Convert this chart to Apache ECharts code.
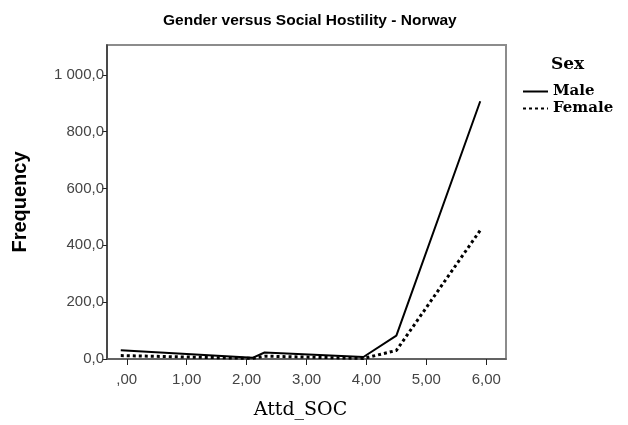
<!DOCTYPE html>
<html><head><meta charset="utf-8">
<script src="https://cdn.jsdelivr.net/npm/echarts@6/dist/echarts.min.js"></script>
<style>html,body{margin:0;padding:0;background:#fff}#c{width:628px;height:425px}</style>
</head><body><div id="c"></div>
<script>
const titleText = 'Gender versus Social Hostility - Norway';
const xName = 'Attd_SOC';
const yName = 'Frequency';
const legendTitle = 'Sex';
const seriesNames = ['Male', 'Female'];
const xTicks = [0, 1, 2, 3, 4, 5, 6];
const yTicks = [0, 200, 400, 600, 800, 1000];
const attdValues = [-0.1, 2.1, 2.3, 3.95, 4.5, 5.9];
const maleFreq = [31, 4, 23, 7, 82, 907];
const femaleFreq = [12, 2, 10, 2, 30, 453];

const chart = echarts.init(document.getElementById('c'));
const fmtX = v => v === 0 ? ',00' : v.toFixed(2).replace('.', ',');
const fmtY = v => v >= 1000 ? (Math.floor(v/1000) + ' ' + (v%1000).toFixed(1).padStart(5,'0')).replace('.', ',') : v.toFixed(1).replace('.', ',');
chart.setOption({
  animation: false,
  title: { text: titleText, left: 158, top: 8,
    textStyle: { fontFamily: 'Liberation Sans', fontWeight: 'bold', fontSize: 15.5, color: '#000' } },
  legend: {
    data: seriesNames, orient: 'vertical', left: 522, top: 84, padding: 0, itemWidth: 25, itemHeight: 14, itemGap: 2,
    itemStyle: { color: 'transparent', borderWidth: 0 },
    textStyle: { fontFamily: 'DejaVu Serif', fontWeight: 'bold', fontSize: 15, lineHeight: 14, color: '#000' },
    selectedMode: false
  },
  graphic: [{ type: 'text', left: 551, top: 56, style: { text: legendTitle, font: 'bold 17px "DejaVu Serif"', fill: '#000' } }],
  grid: { left: 107, right: 122, top: 45, bottom: 65, show: true, borderColor: '#8c8c8c', borderWidth: 2 },
  xAxis: {
    type: 'value', min: -0.33, max: 6.33,
    name: xName, nameLocation: 'middle', nameGap: 42, nameTextStyle: { fontFamily: 'DejaVu Serif', fontSize: 19, color: '#000', padding: [0, 12, 0, 0] },
    axisLine: { onZero: false, lineStyle: { color: '#555', width: 1.5 } },
    axisTick: { customValues: xTicks, length: 6, lineStyle: { color: '#222' } },
    axisLabel: { customValues: xTicks, formatter: fmtX, fontFamily: 'Liberation Sans', fontSize: 15, color: '#444', margin: 13 },
    splitLine: { show: false }
  },
  yAxis: {
    type: 'value', min: 0, max: 1105,
    name: yName, nameLocation: 'middle', nameGap: 77, nameRotate: 90,
    nameTextStyle: { fontFamily: 'Liberation Sans', fontWeight: 'bold', fontSize: 20, color: '#000' },
    axisLine: { show: true, onZero: false, lineStyle: { color: '#333', width: 1.5 } },
    axisTick: { show: true, customValues: yTicks, length: 5, lineStyle: { color: '#222' } },
    axisLabel: { customValues: yTicks, formatter: fmtY, fontFamily: 'Liberation Sans', fontSize: 15, color: '#444', margin: 3 },
    splitLine: { show: false }
  },
  series: [
    { name: seriesNames[0], type: 'line', symbol: 'none', data: attdValues.map((x, i) => [x, maleFreq[i]]),
      lineStyle: { color: '#000', width: 2, type: 'solid' }, itemStyle: { color: '#000' } },
    { name: seriesNames[1], type: 'line', symbol: 'none', data: attdValues.map((x, i) => [x, femaleFreq[i]]),
      lineStyle: { color: '#000', width: 3, type: [3, 3] }, itemStyle: { color: '#000' } }
  ]
});
</script></body></html>
